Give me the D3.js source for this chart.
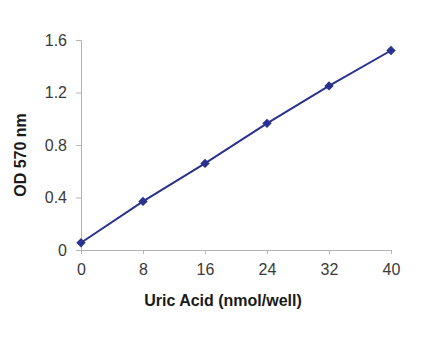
<!DOCTYPE html>
<html>
<head>
<meta charset="utf-8">
<script src="https://cdn.jsdelivr.net/npm/d3@7"></script>
<style>
  body { margin: 0; background: #fff; }
  svg text { font-family: "Liberation Sans", Arial, sans-serif; }
</style>
</head>
<body>
<svg id="chart" width="427" height="346"></svg>
<script>
var uricAcid = [0, 8, 16, 24, 32, 40];
var od570 = [0.055, 0.37, 0.66, 0.965, 1.25, 1.52];
var xTicks = [0, 8, 16, 24, 32, 40];
var yTicks = [0, 0.4, 0.8, 1.2, 1.6];

var svg = d3.select('#chart');

var xScale = d3.scaleLinear().domain([0, 40]).range([81, 391]);
var yScale = d3.scaleLinear().domain([0, 1.6]).range([250, 40]);

// x axis
var xAxis = d3.axisBottom(xScale).tickValues(xTicks).tickSize(4)
    .tickFormat(d3.format('d'));
var gx = svg.append('g').attr('transform', 'translate(0,250)').call(xAxis);
gx.selectAll('.tick text').attr('y', 25).attr('dy', null);

// y axis
var yAxis = d3.axisLeft(yScale).tickValues(yTicks).tickSize(5)
    .tickFormat(function (d) { return d === 0 ? '0' : d3.format('.1f')(d); });
var gy = svg.append('g').attr('transform', 'translate(81,0)').call(yAxis);
gy.selectAll('.tick text').attr('x', -14);

[gx, gy].forEach(function (g) {
    g.select('.domain').attr('stroke', '#b4b4b4');
    g.selectAll('.tick line').attr('stroke', '#b4b4b4');
    g.selectAll('.tick text').attr('fill', '#3a3a3a').style('font-size', '16px');
});

// line
var line = d3.line()
    .x(function (d, i) { return xScale(uricAcid[i]); })
    .y(function (d) { return yScale(d); });

svg.append('path')
    .datum(od570)
    .attr('d', line)
    .attr('fill', 'none')
    .attr('stroke', '#2a3290')
    .attr('stroke-width', 2);

// diamond markers
svg.selectAll('.pt')
    .data(od570)
    .enter()
    .append('path')
    .attr('class', 'pt')
    .attr('d', d3.symbol().type(d3.symbolDiamond2).size(56))
    .attr('transform', function (d, i) {
        return 'translate(' + xScale(uricAcid[i]) + ',' + yScale(d) + ')';
    })
    .attr('fill', '#2a3290');

// axis titles
svg.append('text')
    .attr('x', 223).attr('y', 306)
    .attr('text-anchor', 'middle')
    .style('font-size', '16px').style('font-weight', 'bold')
    .attr('fill', '#1a1a1a')
    .text('Uric Acid (nmol/well)');

svg.append('text')
    .attr('transform', 'translate(26,155) rotate(-90)')
    .attr('text-anchor', 'middle')
    .style('font-size', '16px').style('font-weight', 'bold')
    .attr('fill', '#1a1a1a')
    .text('OD 570 nm');
</script>
</body>
</html>
